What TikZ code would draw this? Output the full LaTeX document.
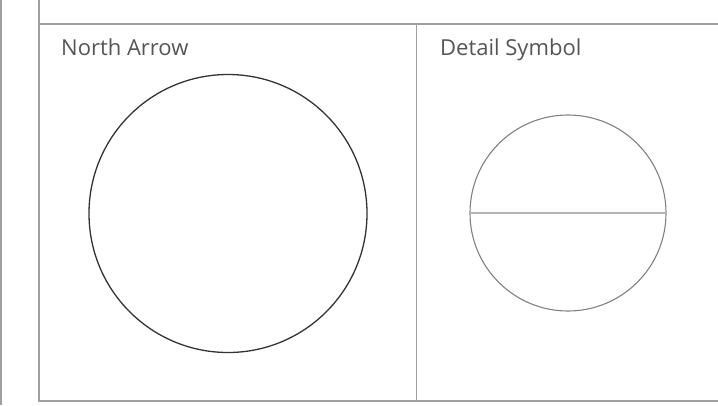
\documentclass[tikz,border=0pt]{standalone}
\usepackage{fontspec}
\setmainfont{Open Sans}
\usepackage{xcolor}
\definecolor{frame}{HTML}{A0A0A0}
\definecolor{label}{HTML}{555555}
\definecolor{ringdark}{HTML}{333333}
\definecolor{ringgray}{HTML}{808080}
\definecolor{splitgray}{HTML}{B4B4B4}
\tikzset{
  panel line/.style={draw=frame,line width=1.2pt},
  panel title/.style={anchor=base west,inner sep=0pt,text=label,font=\fontsize{22}{26}\selectfont},
  north ring/.style={circle,draw=ringdark,line width=1.3pt,minimum size=278pt,inner sep=0pt},
  detail ring/.style={circle,draw=ringgray,line width=1.1pt,minimum size=196pt,inner sep=0pt}
}
\begin{document}
\begin{tikzpicture}[x=1pt,y=-1pt]
\useasboundingbox (0,0) rectangle (718,405);
% frame of the sheet
\draw[panel line] (1,0)--(1,405);
\draw[panel line] (39,0)--(39,401)--(718,401);
\draw[panel line] (39,24)--(718,24);
\draw[panel line] (416.5,24)--(416.5,401);
% left panel
\node[panel title] (northtitle) at (61,55) {North Arrow};
\node[north ring] (northring) at (228,213.5) {};
% right panel
\node[panel title] (detailtitle) at (440,55) {Detail Symbol};
\node[detail ring] (detailring) at (568,213) {};
\draw[draw=splitgray,line width=1.2pt] (detailring.west)--(detailring.east);
\end{tikzpicture}
\end{document}
